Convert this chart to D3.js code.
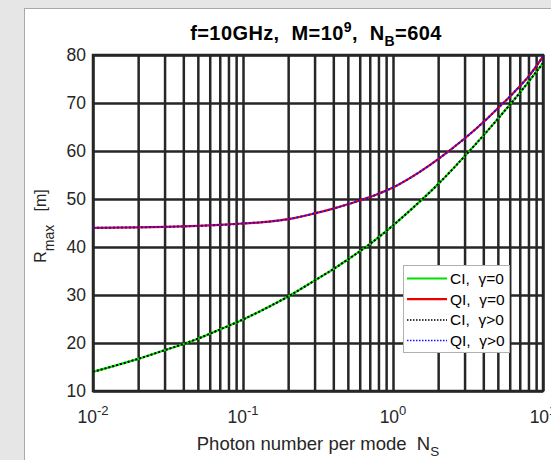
<!DOCTYPE html>
<html>
<head>
<meta charset="utf-8">
<script src="https://cdn.jsdelivr.net/npm/d3@7"></script>
<style>
  body { margin: 0; background: #e6e6e6; }
  svg { display: block; font-family: "Liberation Sans", Arial, sans-serif; }
  text { white-space: pre; }
</style>
</head>
<body>
<svg id="chart" width="551" height="460"></svg>
<script>
// values
const nsValues = [0.01, 0.02, 0.03, 0.04, 0.05, 0.07, 0.1, 0.15, 0.2, 0.3, 0.4, 0.5, 0.6, 0.7, 0.8, 1, 1.5, 2, 3, 4, 5, 6, 7, 8, 10];
const ciValues = [14.0, 16.7, 18.5, 19.8, 20.9, 22.8, 24.9, 27.6, 29.7, 33.0, 35.4, 37.4, 39.1, 40.6, 42.0, 44.5, 49.4, 53.1, 58.9, 63.2, 66.7, 69.6, 72.1, 74.4, 78.3];
const qiValues = [44.0, 44.1, 44.2, 44.3, 44.4, 44.6, 44.9, 45.3, 45.8, 47.0, 48.0, 48.9, 49.7, 50.4, 51.1, 52.4, 55.6, 58.3, 62.6, 66.0, 68.9, 71.3, 73.5, 75.5, 79.7];
// with gamma > 0 the curves sit on top of the gamma = 0 ones
const ciGammaValues = ciValues;
const qiGammaValues = qiValues;

const yTicks = [10, 20, 30, 40, 50, 60, 70, 80];
const xTickExp = [-2, -1, 0, 1];
const legendLabels = ["CI,  \u03b3=0", "QI,  \u03b3=0", "CI,  \u03b3>0", "QI,  \u03b3>0"];

const svg = d3.select("#chart");
const pLeft = 93, pRight = 543, pTop = 55, pBottom = 391;

// figure panel
svg.append("rect").attr("x", 24.5).attr("y", 8.5).attr("width", 600).attr("height", 500)
    .attr("fill", "#fff").attr("stroke", "#a9a9a9");

let x = d3.scaleLog().domain([0.01, 10]).range([pLeft, pRight]);
let y = d3.scaleLinear().domain([10, 80]).range([pBottom, pTop]);

// every 1..9 x 10^k for the log grid
let minor = [];
for (let k = -2; k < 1; k++) {
    for (let m = 1; m < 10; m++) minor.push(m * Math.pow(10, k));
}
minor.push(10);

let gridColor = "#262626";

let xGrid = svg.append("g").attr("transform", "translate(0," + pBottom + ")")
    .call(d3.axisBottom(x).tickValues(minor).tickSize(-(pBottom - pTop)).tickFormat(""));
let yGrid = svg.append("g").attr("transform", "translate(" + pLeft + ",0)")
    .call(d3.axisLeft(y).tickValues(yTicks).tickSize(-(pRight - pLeft)).tickFormat(""));
[xGrid, yGrid].forEach(g => {
    g.selectAll("line").attr("stroke", gridColor).attr("stroke-width", 2.5);
    g.select(".domain").remove();
});
svg.append("rect").attr("x", pLeft).attr("y", pTop).attr("width", pRight - pLeft).attr("height", pBottom - pTop)
    .attr("fill", "none").attr("stroke", gridColor).attr("stroke-width", 2.5);

// tick labels
yTicks.forEach(v => {
    svg.append("text").attr("x", 86).attr("y", y(v)).attr("dy", "0.36em")
        .attr("text-anchor", "end").attr("font-size", 17.5).attr("fill", "#262626").text(v);
});
xTickExp.forEach(e => {
    let t = svg.append("text").attr("x", x(Math.pow(10, e))).attr("y", 423)
        .attr("text-anchor", "middle").attr("font-size", 17.5).attr("fill", "#262626");
    t.append("tspan").text("10");
    t.append("tspan").attr("dy", -8).attr("font-size", 13).text(e);
});

// title
let title = svg.append("text").attr("x", 316).attr("y", 39.5).attr("text-anchor", "middle")
    .attr("font-size", 20).attr("font-weight", "bold").attr("letter-spacing", 0.4).attr("fill", "#000");
title.append("tspan").text("f=10GHz,  M=10");
title.append("tspan").attr("dy", -8).attr("font-size", 14).text("9");
title.append("tspan").attr("dy", 8).text(",  N");
title.append("tspan").attr("dy", 6).attr("font-size", 14).text("B");
title.append("tspan").attr("dy", -6).text("=604");

// axis labels
let xLabel = svg.append("text").attr("x", 318).attr("y", 450).attr("text-anchor", "middle")
    .attr("font-size", 18.5).attr("fill", "#262626");
xLabel.append("tspan").text("Photon number per mode  N");
xLabel.append("tspan").attr("dy", 6).attr("font-size", 13.5).text("S");

let yLabel = svg.append("text").attr("transform", "translate(46,226) rotate(-90)")
    .attr("text-anchor", "middle").attr("font-size", 16).attr("fill", "#262626");
yLabel.append("tspan").text("R");
yLabel.append("tspan").attr("dy", 8).attr("font-size", 14).text("max");
yLabel.append("tspan").attr("dy", -8).text("   [m]");

// curves
svg.append("clipPath").attr("id", "plotClip").append("rect")
    .attr("x", pLeft).attr("y", pTop).attr("width", pRight - pLeft).attr("height", pBottom - pTop);

let line = d3.line()
    .x(d => x(d[0]))
    .y(d => y(d[1]))
    .curve(d3.curveMonotoneX);

let series = [
    {vals: ciValues, color: "#00e000", width: 2.2, dash: null},
    {vals: qiValues, color: "#ee0000", width: 2.2, dash: null},
    {vals: ciGammaValues, color: "#000", width: 2, dash: "2,2"},
    {vals: qiGammaValues, color: "#1010ff", width: 2, dash: "2,2"}
];

let plot = svg.append("g").attr("clip-path", "url(#plotClip)");
series.forEach(s => {
    plot.append("path")
        .datum(nsValues.map((n, i) => [n, s.vals[i]]))
        .attr("d", line)
        .attr("fill", "none")
        .attr("stroke", s.color)
        .attr("stroke-width", s.width)
        .attr("stroke-dasharray", s.dash);
});

// legend
let legend = svg.append("g");
legend.append("rect").attr("x", 403.5).attr("y", 265.5).attr("width", 106).attr("height", 87)
    .attr("fill", "#fff").attr("stroke", "#b0b0b0");
series.forEach((s, i) => {
    let ly = 278.5 + i * 20.7;
    legend.append("line").attr("x1", 407).attr("x2", 447).attr("y1", ly).attr("y2", ly)
        .attr("stroke", s.color).attr("stroke-width", s.dash ? 1.5 : 2.2)
        .attr("stroke-dasharray", s.dash ? "1.5,1.5" : null);
    legend.append("text").attr("x", 450).attr("y", ly).attr("dy", "0.36em")
        .attr("font-size", 15.5).attr("fill", "#000").text(legendLabels[i]);
});
</script>
</body>
</html>
